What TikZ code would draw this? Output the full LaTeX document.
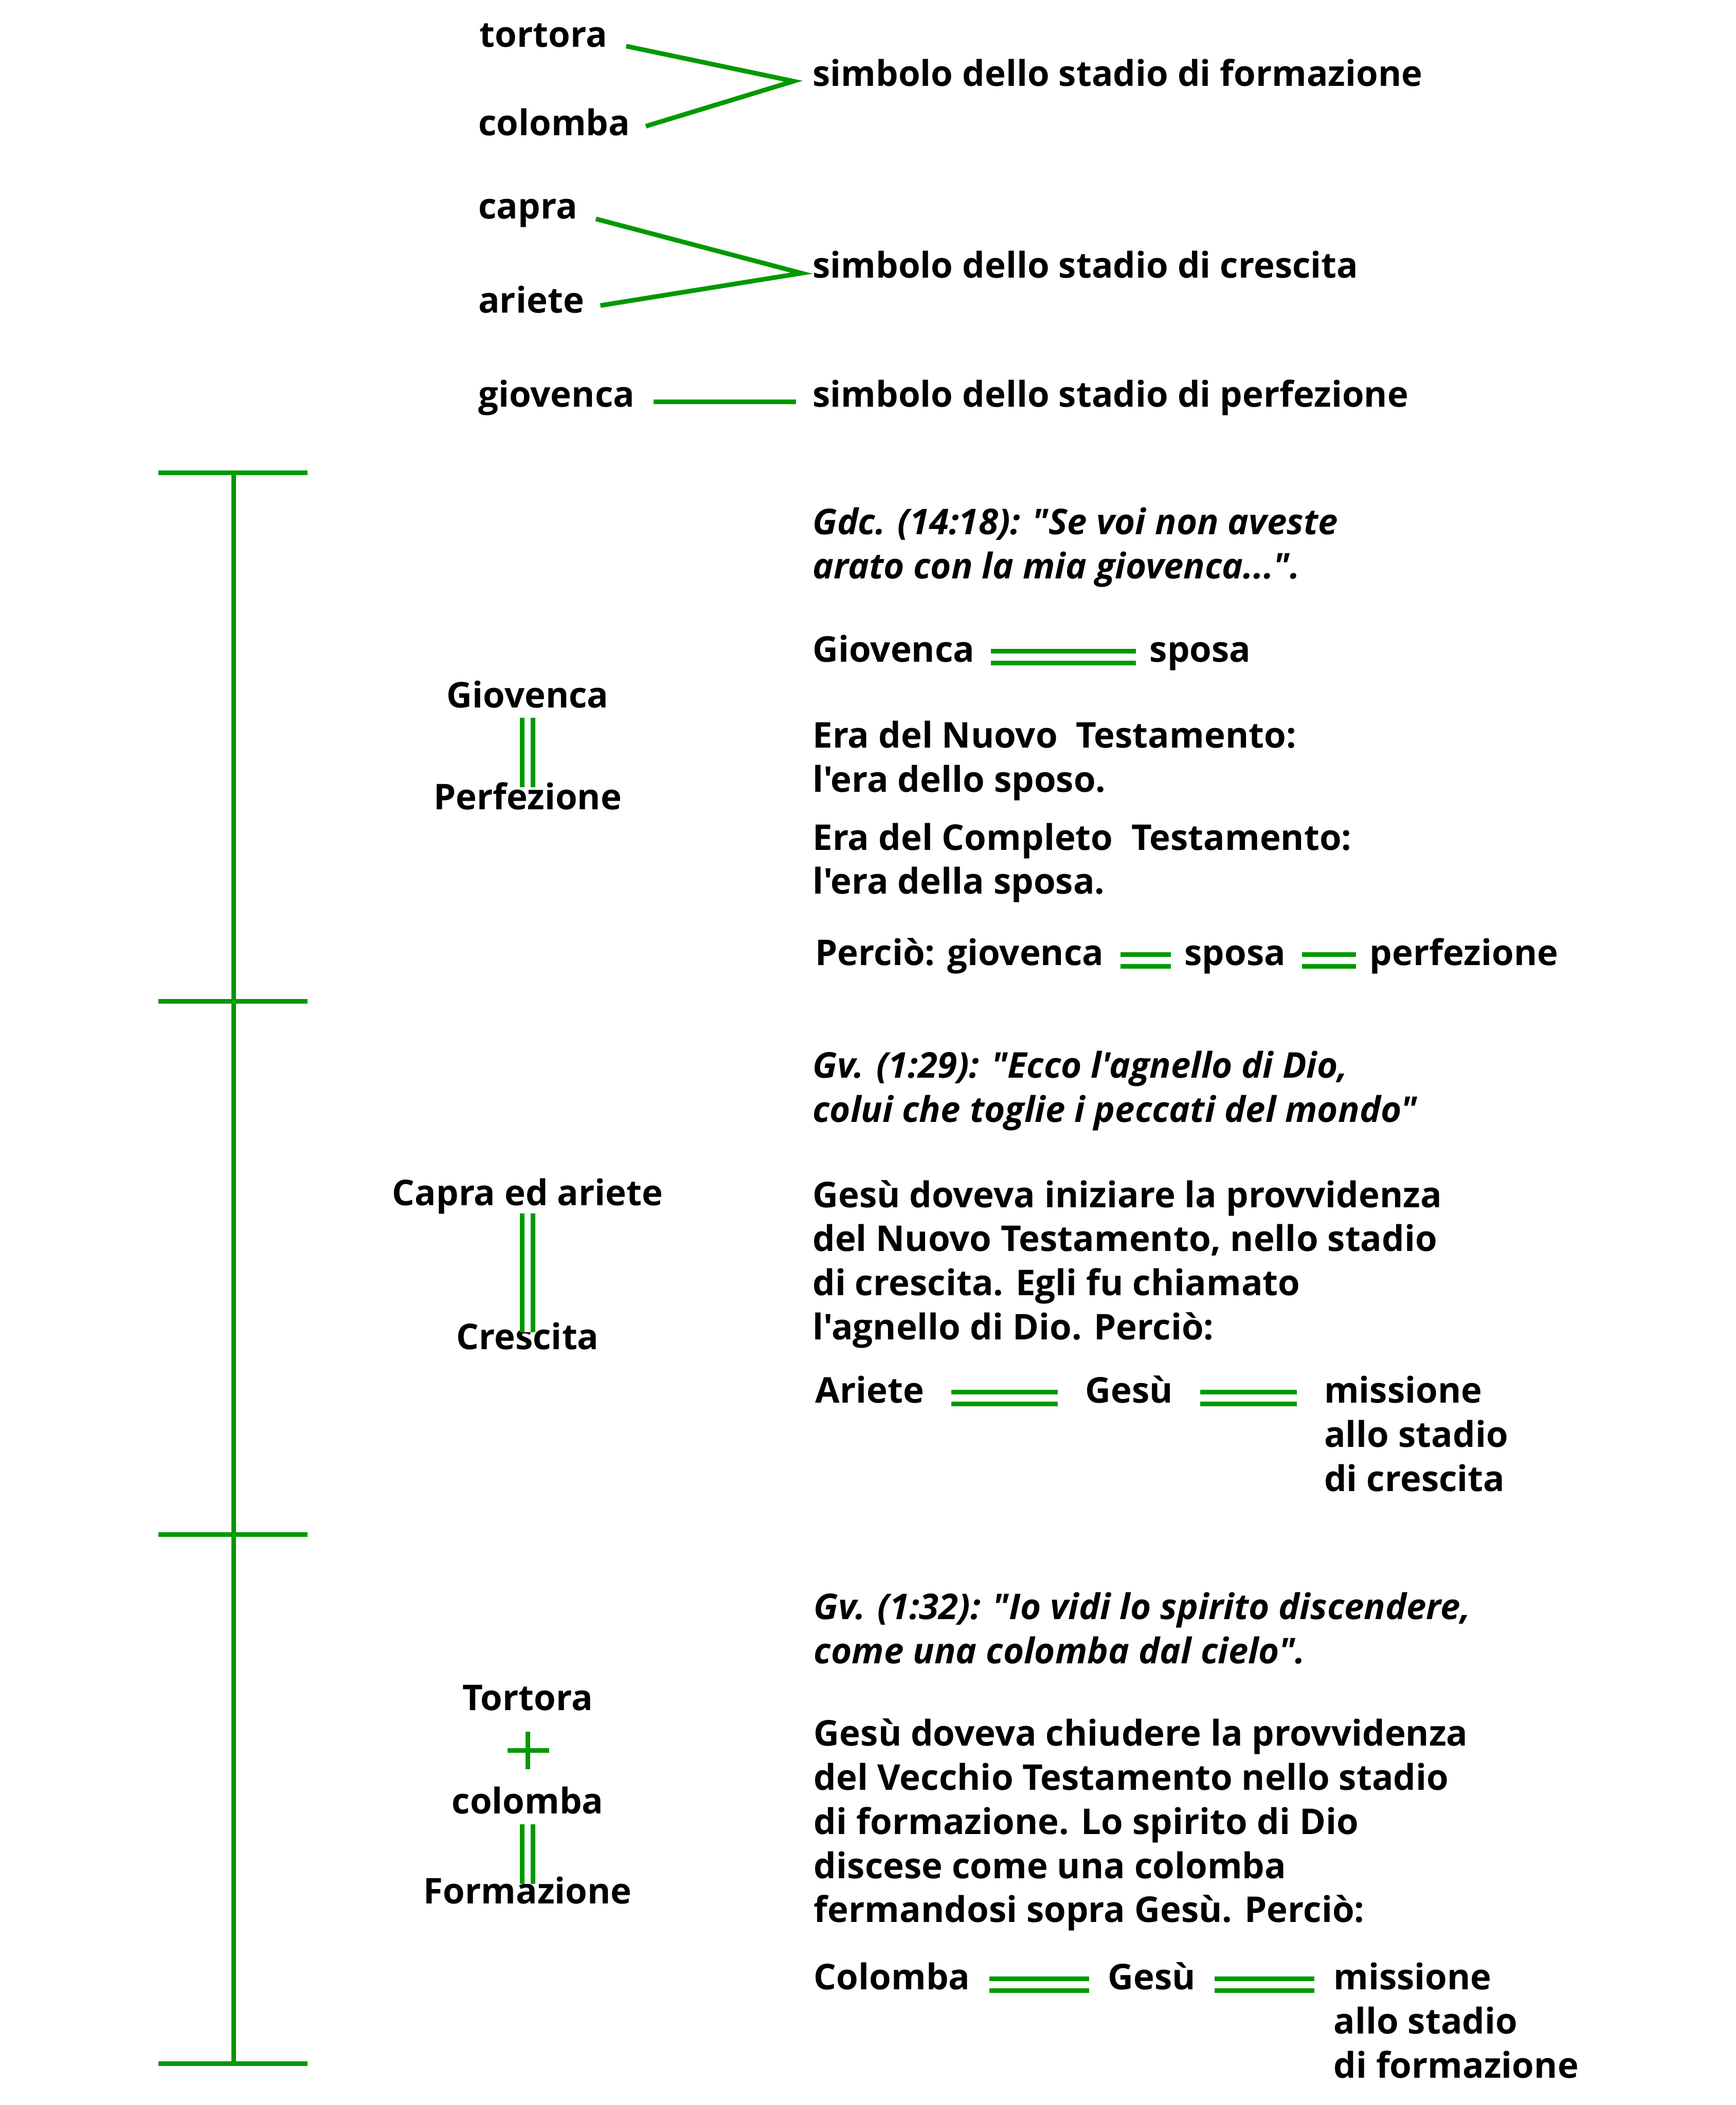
\documentclass[tikz,border=0pt]{standalone}
\usepackage{fontspec}
\setmainfont{Open Sans}[Ligatures=TeXOff]
\usepackage{xcolor}
\usepackage{tikz}
\usetikzlibrary{positioning}
\definecolor{leafgreen}{RGB}{0,153,0}

\begin{document}
\begin{tikzpicture}
  [x=0.25mm, y=-0.25mm,
   word/.style = {inner sep=0pt, anchor=base west, text height=0.75em, text depth=0.25em,
                  font=\fontsize{18.8}{23.4}\selectfont\bfseries},
   para/.style = {inner sep=0pt, anchor=base west, align=left,
                  font=\fontsize{18.8}{23.4}\selectfont\bfseries},
   cite/.style = {para, font=\fontsize{18.8}{23.4}\selectfont\bfseries\itshape},
   mid/.style = {word, anchor=base},
   bar/.style = {draw=leafgreen, line width=0.86mm},
   link/.style = {draw=leafgreen, line width=0.86mm, shorten <=3.5mm, shorten >=3mm},
   eq/.style = {draw=leafgreen, line width=0.86mm, double=white, double distance=1.35mm,
                shorten <=3mm, shorten >=2.5mm},
   eqv/.style = {eq, double distance=1.2mm}]

  \useasboundingbox (0,0) rectangle (1293,1568);

  % legenda in alto
  \node[word] (tortora) at (357,35) {tortora};
  \node[word] (colomba) at (356,101) {colomba};
  \node[word] (sform) at (605,64) {simbolo dello stadio di formazione};
  \node[word] (capra) at (356,163) {capra};
  \node[word] (ariete) at (356,233) {ariete};
  \node[word] (scresc) at (605,207) {simbolo dello stadio di crescita};
  \node[word] (giovenca) at (356,303) {giovenca};
  \node[word] (sperf) at (605,303) {simbolo dello stadio di perfezione};

  \coordinate[left=3.5mm of sform.west] (apexf);
  \coordinate[left=2mm of scresc.west] (apexc);
  \draw[link] (tortora.east) -- (apexf) -- (colomba.east);
  \draw[link] (capra.east) -- (apexc) -- (ariete.east);
  \draw[link] (giovenca.east) -- (sperf.west);

  % linea del tempo
  \coordinate (t1) at (174,352);
  \coordinate (t2) at (174,746);
  \coordinate (t3) at (174,1143);
  \coordinate (t4) at (174,1537);
  \draw[bar] (t1) -- (t4);
  \foreach \t in {t1,t2,t3,t4}
    \draw[bar] (\t) ++(-56,0) -- ++(111,0);

  % colonna centrale
  \node[mid] (gio2) at (393,527) {Giovenca};
  \node[mid] (perf) at (393,603) {Perfezione};
  \node[mid] (capra2) at (393,898) {Capra ed ariete};
  \node[mid] (cresc) at (393,1005) {Crescita};
  \node[mid] (tort2) at (393,1274) {Tortora};
  \node[mid] (col2) at (393,1351) {colomba};
  \node[mid] (form) at (393,1418) {Formazione};

  \draw[eqv, shorten <=1mm, shorten >=1.5mm] (gio2.south) -- (perf.north);
  \draw[eqv, shorten <=0.5mm, shorten >=0.5mm] (capra2.south) -- (cresc.north);
  \draw[eqv, shorten <=1mm, shorten >=1mm] (col2.south) -- (form.north);
  \coordinate (plus) at (393,1304);
  \draw[link, shorten <=0pt, shorten >=0pt] (plus) ++(-15,0) -- ++(31,0)
    (plus) ++(0,-14) -- ++(0,28);

  % perfezione
  \node[cite] (q1) at (605,431) {Gdc. (14:18): "Se voi non aveste\\arato con la mia giovenca...".};
  \node[word] (gio3) at (605,493) {Giovenca};
  \node[word] (sposa1) at (856,493) {sposa};
  \draw[eq] (gio3.east) -- (sposa1.west);
  \node[para] (era1) at (605,590) {Era del Nuovo \ Testamento:\\l'era dello sposo.};
  \node[para] (era2) at (605,666) {Era del Completo \ Testamento:\\l'era della sposa.};
  \node[word] (perc) at (607,719) {Perciò: giovenca};
  \node[word] (sposa2) at (882,719) {sposa};
  \node[word] (perf2) at (1020,719) {perfezione};
  \draw[eq] (perc.east) -- (sposa2.west);
  \draw[eq] (sposa2.east) -- (perf2.west);

  % crescita
  \node[cite] (q2) at (605,836) {Gv. (1:29): "Ecco l'agnello di Dio,\\colui che toglie i peccati del mondo"};
  \node[para] (par1) at (605,998) {Gesù doveva iniziare la provvidenza\\del Nuovo Testamento, nello stadio\\di crescita. Egli fu chiamato\\l'agnello di Dio. Perciò:};
  \node[word] (ari) at (607,1045) {Ariete};
  \node[word] (gesu1) at (808,1045) {Gesù};
  \node[word] (miss1) at (986,1045) {missione};
  \node[para] (stad1) at (986,1111) {allo stadio\\di crescita};
  \draw[eq, shorten <=5mm, shorten >=5mm] (ari.east) -- (gesu1.west);
  \draw[eq, shorten <=5mm, shorten >=5mm] (gesu1.east) -- (miss1.west);

  % formazione
  \node[cite] (q3) at (606,1239) {Gv. (1:32): "Io vidi lo spirito discendere,\\come una colomba dal cielo".};
  \node[para] (par2) at (606,1432) {Gesù doveva chiudere la provvidenza\\del Vecchio Testamento nello stadio\\di formazione. Lo spirito di Dio\\discese come una colomba\\fermandosi sopra Gesù. Perciò:};
  \node[word] (colo) at (606,1482) {Colomba};
  \node[word] (gesu2) at (825,1482) {Gesù};
  \node[word] (miss2) at (993,1482) {missione};
  \node[para] (stad2) at (993,1548) {allo stadio\\di formazione};
  \draw[eq, shorten <=3.5mm, shorten >=3.5mm] (colo.east) -- (gesu2.west);
  \draw[eq, shorten <=3.5mm, shorten >=3.5mm] (gesu2.east) -- (miss2.west);
\end{tikzpicture}
\end{document}
